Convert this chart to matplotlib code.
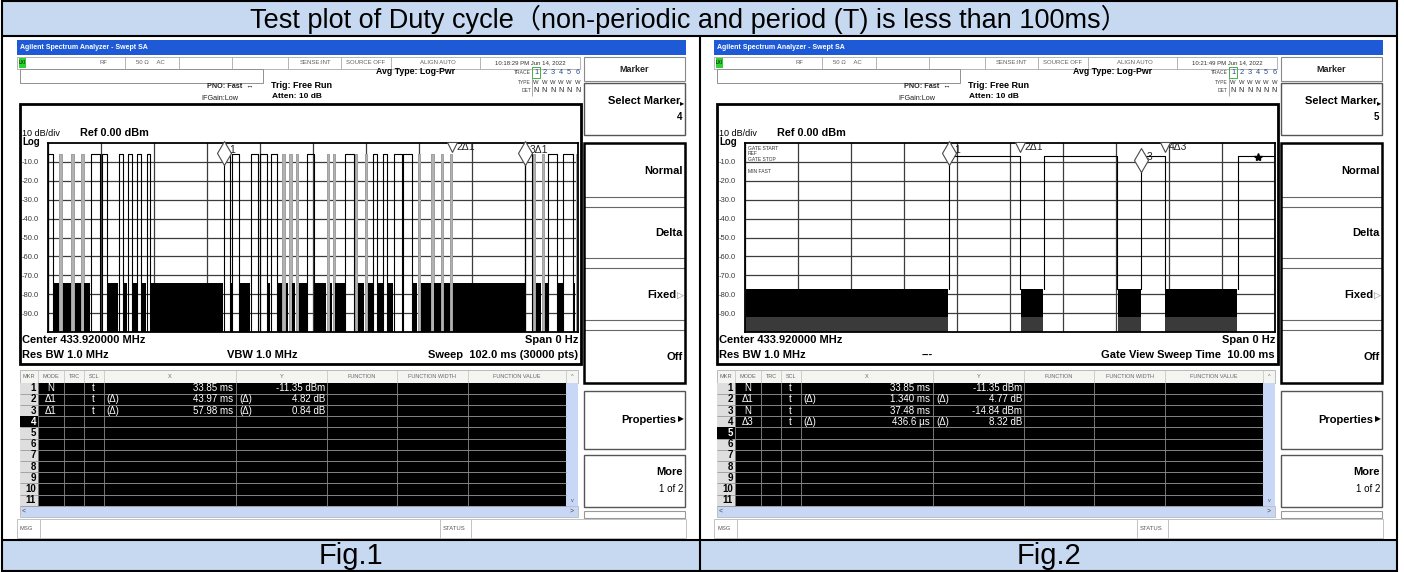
import numpy as np
import matplotlib.pyplot as plt
from matplotlib.patches import Rectangle

plt.rcParams['font.family'] = ['Liberation Sans', 'DejaVu Sans', 'Noto Sans CJK SC']

W, H = 1404, 572  # canvas size in pixels at dpi 100

# ---------------- data ----------------
title = 'Test plot of Duty cycle（non-periodic and period (T) is less than 100ms）'
fig_names = ['Fig.1', 'Fig.2']

# Fig.1 : zero span, 102 ms sweep. carrier ON intervals in ms
sweep1 = [0.0, 102.0]
on1 = [(0.0, 0.9), (2.2, 2.7), (4.5, 5.0), (6.4, 6.9), (8.2, 10.0), (10.4, 11.3),
       (13.6, 14.4), (15.3, 16.1), (17.2, 17.9), (19.0, 19.7),
       (33.85, 35.1), (35.5, 36.8), (39.0, 40.5), (40.8, 42.2), (42.9, 44.0),
       (45.1, 45.6), (46.4, 46.9), (47.7, 48.2), (49.9, 51.1), (53.7, 54.1),
       (54.8, 55.2), (57.2, 58.8), (59.0, 59.5), (61.0, 61.4), (62.6, 63.3),
       (64.5, 65.2), (66.5, 68.1), (68.4, 70.0), (71.2, 71.6), (73.8, 74.2),
       (75.7, 76.1), (77.4, 77.82),
       (91.83, 93.1), (93.4, 93.8), (95.0, 95.55), (96.3, 98.0), (99.2, 101.1),
       (101.6, 102.0)]
on_level1 = -6.0
noise_top1 = -74.0

# Fig.2 : gate view, 10 ms window
sweep2 = [30.0, 40.0]
on2 = [(33.85, 35.19), (35.64, 37.02), (37.48, 37.92), (39.30, 40.0)]
on_level2 = -7.0
noise_top2 = -77.0
noise_dense2 = -92.0

floor = -100.0
ylabels = [-10, -20, -30, -40, -50, -60, -70, -80, -90]

# markers: label, time (ms), level (dBm), symbol
mk1 = [('1', 33.85, -5.5, 'd'), ('2Δ1', 77.82, -2.0, 'v'), ('3Δ1', 91.83, -5.5, 'd')]
mk2 = [('1', 33.85, -5.5, 'd'), ('2Δ1', 35.19, -2.0, 'v'), ('3', 37.48, -9.0, 'd'),
       ('4Δ3', 37.92, -2.0, 'v')]
star2 = (39.68, -7.5)

# marker tables: mode, x-delta, x, y-delta, y
table1 = [('N', '', '33.85 ms', '', '-11.35 dBm'),
          ('Δ1', '(Δ)', '43.97 ms', '(Δ)', '4.82 dB'),
          ('Δ1', '(Δ)', '57.98 ms', '(Δ)', '0.84 dB')]
table2 = [('N', '', '33.85 ms', '', '-11.35 dBm'),
          ('Δ1', '(Δ)', '1.340 ms', '(Δ)', '4.77 dB'),
          ('N', '', '37.48 ms', '', '-14.84 dBm'),
          ('Δ3', '(Δ)', '436.6 µs', '(Δ)', '8.32 dB')]

panels = [
    dict(dx=0, clock='10:18:29 PM Jun 14, 2022', sel=4, mid='VBW 1.0 MHz', mid_x=262,
         sweep_txt='Sweep  102.0 ms (30000 pts)', rows=table1),
    dict(dx=697, clock='10:21:49 PM Jun 14, 2022', sel=5, mid='---', mid_x=230,
         sweep_txt='Gate View Sweep Time  10.00 ms', rows=table2),
]

# ---------------- figure ----------------
fig = plt.figure(figsize=(W / 100, H / 100), dpi=100)
bg = fig.add_axes([0, 0, 1, 1])
bg.set_xlim(0, W)
bg.set_ylim(H, 0)
bg.axis('off')


def box(x0, y0, x1, y1, fc='none', ec='k', lw=1.0, z=1):
    bg.add_patch(Rectangle((x0, y0), x1 - x0, y1 - y0, fc=fc, ec=ec, lw=lw, zorder=z))


def line(x0, y0, x1, y1, c='k', lw=1.0, z=2):
    bg.plot([x0, x1], [y0, y1], color=c, lw=lw, zorder=z, solid_capstyle='butt')


def txt(x, y, s, size=6, ha='left', weight='normal', color='k', z=4, **kw):
    bg.text(x, y, s, fontsize=size, ha=ha, va='center', fontweight=weight,
            color=color, zorder=z, **kw)


# outer table: title row and caption row
box(2, 1, 1397, 36, fc='#c6d9f1', ec='none', z=0)
box(2, 540, 1397, 571, fc='#c6d9f1', ec='none', z=0)
box(2, 1, 1397, 571, ec='k', lw=1.5, z=6)
line(2, 36, 1397, 36, lw=1.5, z=6)
line(2, 540, 1397, 540, lw=1.5, z=6)
line(700, 36, 700, 571, lw=1.5, z=6)
txt(689, 19, title, 19.5, ha='center')
txt(351, 556, fig_names[0], 21, ha='center')
txt(1049, 556, fig_names[1], 21, ha='center')


def softkeys(dx, sel):
    x0, x1 = 584 + dx, 685 + dx
    box(x0, 57, x1, 81, fc='white', ec='#8a8a8a', lw=0.8)
    txt((x0 + x1) / 2, 69, 'Marker', 6.5, ha='center', weight='bold', color='#222')
    box(x0, 83, x1, 135, fc='white', ec='#555', lw=1.0)
    txt(x1 - 5, 101, 'Select Marker', 8, ha='right', weight='bold')
    txt(x1 - 1, 104, '▸', 6, ha='right')
    txt(x1 - 3, 117, str(sel), 7, ha='right', weight='bold')
    # group of four keys with thick frame
    keys = [(143, 197, 'Normal'), (207, 258, 'Delta'), (268, 320, 'Fixed'), (330, 383, 'Off')]
    for ya, yb, name in keys:
        box(x0, ya, x1, yb, fc='white', ec='#666', lw=0.8)
        if name == 'Fixed':
            txt(x1 - 9, (ya + yb) / 2 + 1, name, 8, ha='right', weight='bold')
            txt(x1 - 1, (ya + yb) / 2 + 1, '▷', 6.5, ha='right', color='#888')
        else:
            txt(x1 - 2, (ya + yb) / 2 + 1, name, 8, ha='right', weight='bold')
    box(x0, 143, x1, 383, ec='k', lw=1.8, z=3)
    box(x0, 391, x1, 449, fc='white', ec='#555', lw=1.0)
    txt(x1 - 9, 420, 'Properties', 8, ha='right', weight='bold')
    txt(x1 - 1, 420, '▶', 5.5, ha='right')
    box(x0, 455, x1, 507, fc='white', ec='#555', lw=1.0)
    txt(x1 - 2, 472, 'More', 8, ha='right', weight='bold')
    txt(x1 - 2, 489, '1 of 2', 7, ha='right')
    box(x0, 511, x1, 518, fc='white', ec='#999', lw=0.8)


def header(p):
    dx = p['dx']
    box(17 + dx, 40, 686 + dx, 55, fc='#1f5ad6', ec='none')
    txt(20 + dx, 47.5, 'Agilent Spectrum Analyzer - Swept SA', 5, color='white', weight='bold')
    # status bar
    box(17 + dx, 57, 580 + dx, 69, fc='white', ec='#a8a8a8', lw=0.6)
    box(19 + dx, 58, 26 + dx, 68, fc='#2fd12f', ec='none')
    txt(19 + dx, 63, 'LXI', 3.3)
    for xv in [125, 179, 232, 288, 341, 391, 480]:
        line(xv + dx, 57, xv + dx, 69, c='#a8a8a8', lw=0.6)
    st = '#606060'
    txt(103 + dx, 63, 'RF', 4.3, ha='center', color=st)
    txt(136 + dx, 63, '50 Ω     AC', 4.3, color=st)
    txt(315 + dx, 63, 'SENSE:INT', 4.3, ha='center', color=st)
    txt(366 + dx, 63, 'SOURCE OFF', 4.3, ha='center', color=st)
    txt(438 + dx, 63, 'ALIGN AUTO', 4.3, ha='center', color=st)
    txt(530 + dx, 63, p['clock'], 4.3, ha='center', color='#333')
    box(20 + dx, 69, 263 + dx, 83, fc='white', ec='#909090', lw=0.7)
    txt(230 + dx, 87, 'PNO: Fast  ↔', 5.2, ha='center', weight='bold', color='#222')
    txt(220 + dx, 98, 'IFGain:Low', 5.2, ha='center', color='#222')
    txt(271 + dx, 85, 'Trig: Free Run', 6.5, weight='bold')
    txt(272 + dx, 97, 'Atten: 10 dB', 6, weight='bold')
    txt(376 + dx, 72, 'Avg Type: Log-Pwr', 6.3, weight='bold')
    txt(531 + dx, 72, 'TRACE', 3.6, ha='right', color='#444')
    txt(531 + dx, 82, 'TYPE', 3.6, ha='right', color='#444')
    txt(531 + dx, 91, 'DET', 3.6, ha='right', color='#444')
    box(532 + dx, 67, 540 + dx, 78, ec='#44b044', lw=0.7)
    line(532 + dx, 77, 532 + dx, 96, c='#888', lw=0.5)
    for i in range(6):
        xi = 536 + i * 8.3 + dx
        txt(xi, 73, str(i + 1), 5.3, ha='center', color='#2a4a8a')
        txt(xi, 82, 'W', 4.2, ha='center', color='#333')
        txt(xi, 91, 'N', 5, ha='center', color='#222')
    # trace window frame and annotation text
    box(20 + dx, 104, 581 + dx, 364, ec='k', lw=2.0, z=3)
    txt(22 + dx, 134, '10 dB/div', 6.5)
    txt(80 + dx, 133, 'Ref 0.00 dBm', 7.8, weight='bold')
    txt(22 + dx, 142, 'Log', 7, weight='bold')
    txt(22 + dx, 340, 'Center 433.920000 MHz', 8, weight='bold')
    txt(22 + dx, 355, 'Res BW 1.0 MHz', 8, weight='bold')
    txt(p['mid_x'] + dx, 355, p['mid'], 8, ha='center', weight='bold')
    txt(578 + dx, 340, 'Span 0 Hz', 8, ha='right', weight='bold')
    txt(578 + dx, 355, p['sweep_txt'], 8, ha='right', weight='bold')


def marker_table(p):
    dx = p['dx']
    cols = [20, 38, 64, 84, 104, 236, 327, 397, 468, 566, 578]
    names = ['MKR', 'MODE', 'TRC', 'SCL', 'X', 'Y', 'FUNCTION', 'FUNCTION WIDTH',
             'FUNCTION VALUE', '^']
    top, rh, nrow = 382.5, 11.2, 11
    bot = top + rh * nrow
    box(20 + dx, 370, 578 + dx, top, fc='#f4f4f0', ec='#b0b0b0', lw=0.6)
    for i, nm in enumerate(names):
        txt((cols[i] + cols[i + 1]) / 2 + dx, 376.5, nm, 4.0, ha='center', color='#666')
        line(cols[i + 1] + dx, 370, cols[i + 1] + dx, top, c='#c0c0c0', lw=0.5)
    box(38 + dx, top, 566 + dx, bot, fc='k', ec='none', z=1)
    box(20 + dx, top, 38 + dx, bot, fc='#dedede', ec='none', z=1)
    box(566 + dx, top, 578 + dx, bot, fc='#c7d7f5', ec='none', z=1)
    txt(572 + dx, bot - 5, 'v', 4, ha='center', color='#555')
    for r in range(nrow):
        yc = top + rh * (r + 0.5)
        line(20 + dx, top + rh * (r + 1), 566 + dx, top + rh * (r + 1), c='#9a9a9a', lw=0.6)
        if r + 1 == p['sel']:
            box(20 + dx, top + rh * r, 38 + dx, top + rh * (r + 1), fc='k', ec='none', z=2)
            txt(36 + dx, yc, str(r + 1), 7, ha='right', weight='bold', color='white')
        else:
            txt(36 + dx, yc, str(r + 1), 7, ha='right', weight='bold')
    for xv in cols[1:-2]:
        line(xv + dx, top, xv + dx, bot, c='#8a8a8a', lw=0.6)
    for r, (mode, dxs, xval, dys, yval) in enumerate(p['rows']):
        yc = top + rh * (r + 0.5)
        txt(51 + dx, yc, mode, 7, ha='center', color='white')
        txt(93 + dx, yc, 't', 7, ha='center', color='white')
        txt(106 + dx, yc, dxs, 7, color='white')
        txt(233 + dx, yc, xval, 7, ha='right', color='white')
        txt(239 + dx, yc, dys, 7, color='white')
        txt(325 + dx, yc, yval, 7, ha='right', color='white')
    # horizontal scroll bar and message line
    box(20 + dx, bot, 578 + dx, 517, fc='#c7d7f5', ec='#b0b0b0', lw=0.5)
    txt(24 + dx, 511.5, '<', 5, ha='center', color='#444')
    txt(572 + dx, 511.5, '>', 5, ha='center', color='#444')
    box(17 + dx, 519, 686 + dx, 538, fc='white', ec='#b8b8b8', lw=0.6)
    txt(20 + dx, 528, 'MSG', 4.2, color='#555')
    line(40 + dx, 519, 40 + dx, 538, c='#b8b8b8', lw=0.6)
    txt(443 + dx, 528, 'STATUS', 4.2, color='#555')
    line(440 + dx, 519, 440 + dx, 538, c='#b8b8b8', lw=0.6)
    line(471 + dx, 519, 471 + dx, 538, c='#b8b8b8', lw=0.6)


def trace_axes(dx, sweep):
    ax = fig.add_axes([(48 + dx) / W, 1 - 332 / H, 530 / W, 189 / H])
    ax.set_xlim(sweep)
    ax.set_ylim(floor, 0)
    ax.set_xticks(np.linspace(sweep[0], sweep[1], 11))
    ax.set_yticks(ylabels)
    ax.set_yticklabels(['%.1f' % v for v in ylabels])
    for lab in ax.get_yticklabels():
        lab.set_ha('left')
    ax.tick_params(length=0, labelsize=5.5, pad=19, colors='#3a3a3a')
    ax.tick_params(axis='x', labelbottom=False)
    ax.grid(True, color='#3c3c3c', lw=0.9)
    ax.set_axisbelow(True)
    for s in ax.spines.values():
        s.set_color('k')
        s.set_linewidth(1.3)
    return ax


def draw_trace(ax, on, sweep, hi, vbot, bands):
    span = sweep[1] - sweep[0]
    narrow = 0.006 * span   # bursts narrower than ~3 px render as grey bars
    xs, ys = [], []
    for s, e in on:
        if e - s < narrow:
            ax.fill_between([s, e], floor, hi, color='#b2b2b2', lw=0, zorder=2)
            ax.plot([s, s, e, e], [vbot, hi, hi, vbot], color='#a0a0a0', lw=0.7, zorder=2)
        else:
            xs += [s, s, e, e, np.nan]
            ys += [vbot, hi, hi, vbot, np.nan]
    ax.plot(xs, ys, color='k', lw=0.8, zorder=3)
    edges = [sweep[0]] + [v for pr in on for v in pr] + [sweep[1]]
    g = span * 0.0012
    for a, b in zip(edges[0::2], edges[1::2]):
        if b - a <= 2 * g:
            continue
        for lo, top, c in bands:
            ax.fill_between([a + g, b - g], lo, top, color=c, lw=0, zorder=2)


def draw_markers(ax, mks):
    for lab, t, y, m in mks:
        ax.plot(t, y, marker=m, ms=12 if m == 'd' else 6.5, mfc='white', mec='#4a4a4a',
                mew=0.8, clip_on=False, zorder=6, ls='none')
        if m == 'd':
            ax.annotate(lab, (t, y), xytext=(3.5, 2.5), textcoords='offset points',
                        fontsize=7.5, va='center', color='#222', annotation_clip=False)
        else:
            ax.annotate(lab, (t, y), xytext=(3, -0.5), textcoords='offset points',
                        fontsize=7.5, va='center', color='#222', annotation_clip=False)


for p in panels:
    header(p)
    softkeys(p['dx'], p['sel'])
    marker_table(p)

ax1 = trace_axes(0, sweep1)
draw_trace(ax1, on1, sweep1, on_level1, floor, [(floor, noise_top1, 'k')])
draw_markers(ax1, mk1)

ax2 = trace_axes(697, sweep2)
draw_trace(ax2, on2, sweep2, on_level2, noise_top2,
           [(floor, noise_dense2, '#3a3a3a'), (noise_dense2, noise_top2, 'k')])
draw_markers(ax2, mk2)
ax2.plot(*star2, marker='*', ms=6, color='k', ls='none', clip_on=False, zorder=6)
for yv, s in [(-3, 'GATE START'), (-5.8, 'REF'), (-8.6, 'GATE STOP'), (-15, 'MIN FAST')]:
    ax2.text(30.05, yv, s, fontsize=3.6, va='center', color='#333')

fig.savefig('out.png', dpi=100)
